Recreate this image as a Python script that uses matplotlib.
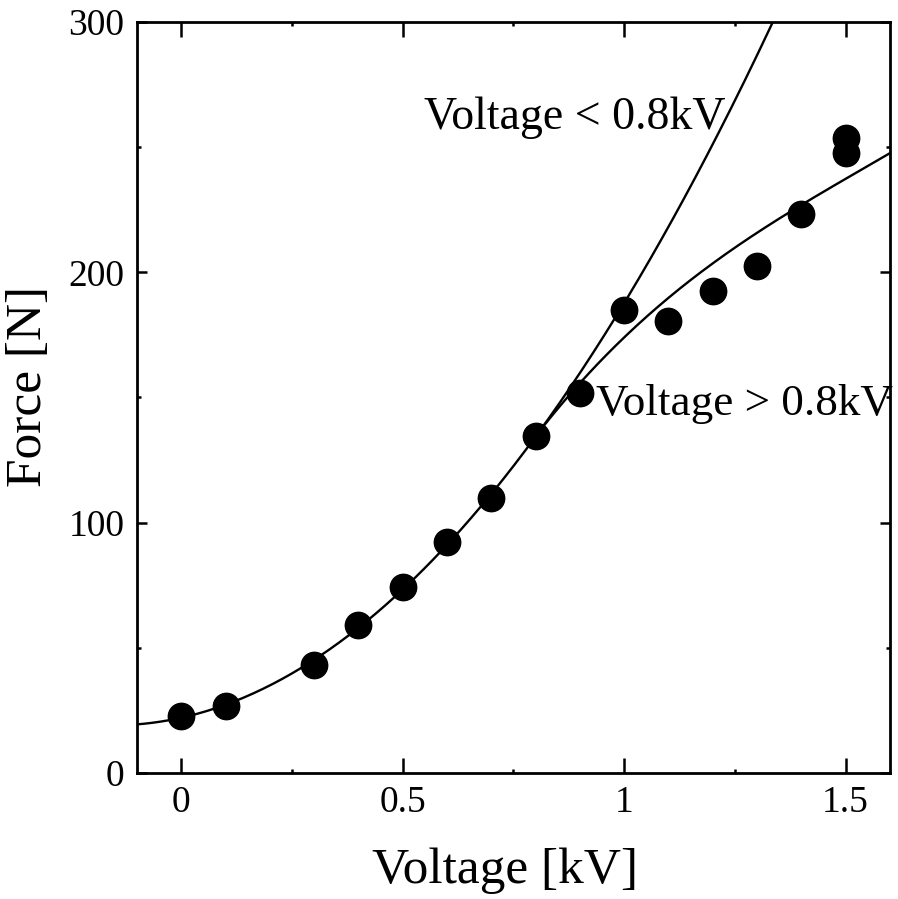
import numpy as np
import matplotlib
matplotlib.use('Agg')
import matplotlib.pyplot as plt

plt.rcParams['font.family'] = ['Liberation Serif', 'DejaVu Serif']

# Measured points
voltage = [0.0, 0.1, 0.3, 0.4, 0.5, 0.6, 0.7, 0.8, 0.9, 1.0, 1.1, 1.2, 1.3, 1.4, 1.5, 1.5]
force = [22.8, 26.8, 43.1, 59.1, 74.3, 92.3, 109.9, 134.6, 151.8, 185.0,
         180.6, 192.6, 202.6, 223.3, 247.7, 253.7]

# high-voltage curve
branch_v = [0.8, 0.9, 1.0, 1.1, 1.2, 1.3, 1.4, 1.5, 1.6]
branch_f = [134.4, 155.5, 175.0, 190.0, 202.5, 215.5, 227.0, 238.5, 247.0]

x_ticks = [0, 0.5, 1, 1.5]
x_ticklabels = ['0', '0.5', '1', '1.5']
y_ticks = [0, 100, 200, 300]
y_ticklabels = ['0', '100', '200', '300']

v = np.array(voltage)
f = np.array(force)

# low-voltage fit: quadratic through points up to 0.8 kV
low = v <= 0.8
p_low = np.polyfit(v[low], f[low], 2)
xs = np.linspace(-0.1, 1.6, 400)

# smooth the read-off high-voltage curve
p_high = np.polyfit(branch_v, branch_f, 3)
xh = np.linspace(branch_v[0], branch_v[-1], 200)

fig = plt.figure(figsize=(8.98, 8.99), dpi=100)
ax = fig.add_axes([0.1526, 0.1402, 0.8384, 0.8353])

ax.plot(xs, np.polyval(p_low, xs), color='black', lw=1.7)
ax.plot(xh, np.polyval(p_high, xh), color='black', lw=1.7)
ax.plot(v, f, 'o', color='black', markersize=19, zorder=3)

ax.text(0.547, 257.3, 'Voltage < 0.8kV', fontsize=33, ha='left', va='baseline')
ax.text(0.937, 143, 'Voltage > 0.8kV', fontsize=32.5, ha='left', va='baseline')

ax.set_xlim(-0.1, 1.6)
ax.set_ylim(0, 300)
ax.set_xticks(x_ticks)
ax.set_xticklabels(x_ticklabels)
ax.set_yticks(y_ticks)
ax.set_yticklabels(y_ticklabels)
ax.set_xticks([0.25, 0.75, 1.25], minor=True)
ax.set_yticks([50, 150, 250], minor=True)

ax.tick_params(which='both', direction='in', top=True, right=True, width=1.8)
ax.tick_params(axis='x', which='major', length=11, labelsize=27, pad=9)
ax.tick_params(axis='y', which='major', length=7.5, labelsize=27, pad=9)
ax.tick_params(which='minor', length=3)
for s in ax.spines.values():
    s.set_linewidth(2)

ax.set_xlabel('Voltage [kV]', fontsize=37, va='baseline')
ax.set_ylabel('Force [N]', fontsize=37)
ax.xaxis.set_label_coords(0.489, -0.146)
ax.yaxis.set_label_coords(-0.113, 0.515)

fig.savefig('out.png', dpi=100)
